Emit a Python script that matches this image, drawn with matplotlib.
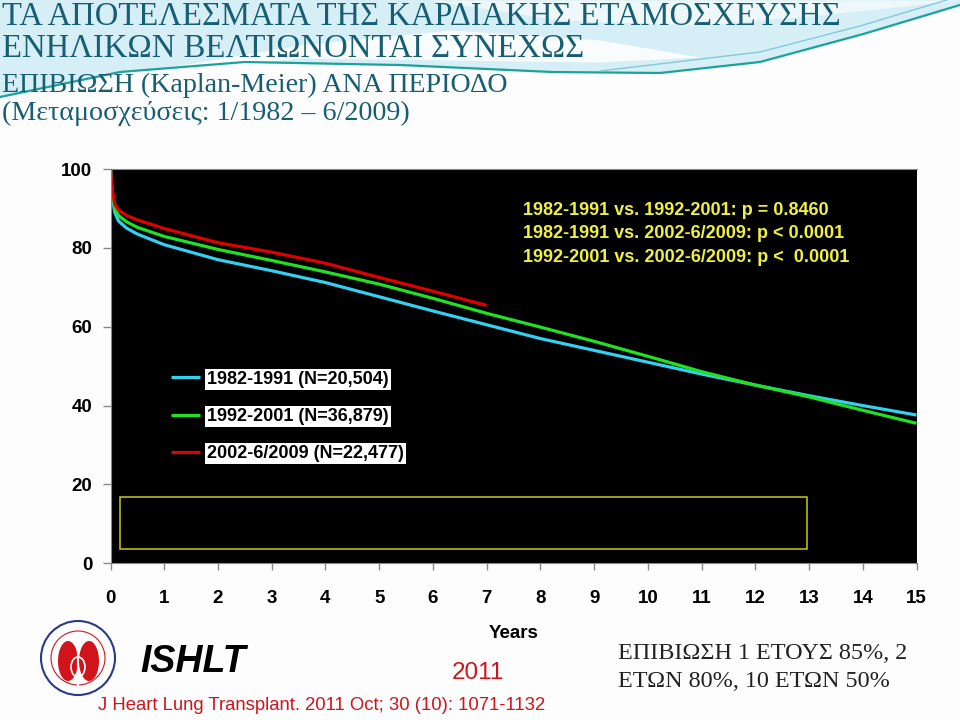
import matplotlib
matplotlib.use("Agg")
import matplotlib.pyplot as plt
import numpy as np
from matplotlib.patches import Rectangle, Circle, Ellipse

# ---------------- data ----------------
years_8291 = [0, 0.03, 0.08, 0.15, 0.3, 0.5, 1, 2, 3, 4, 5, 6, 7, 8, 9, 10, 11, 12, 13, 14, 15]
surv_8291 = [100, 93, 89, 86.8, 85.0, 83.5, 80.8, 77.0, 74.2, 71.2, 67.6, 64.0, 60.5, 57.0, 54.0, 51.0, 48.0, 45.2, 42.5, 40.0, 37.6]

years_9201 = [0, 0.03, 0.08, 0.15, 0.3, 0.5, 1, 2, 3, 4, 5, 6, 7, 8, 9, 10, 11, 12, 13, 14, 15]
surv_9201 = [100, 94, 90, 88.2, 86.6, 85.2, 82.9, 79.6, 76.8, 73.9, 70.8, 67.2, 63.4, 59.9, 56.3, 52.5, 48.6, 45.2, 42.2, 38.8, 35.5]

years_0209 = [0, 0.03, 0.08, 0.15, 0.3, 0.5, 1, 2, 3, 4, 5, 6, 7]
surv_0209 = [100, 95, 91, 89.6, 88.2, 87.1, 84.9, 81.3, 78.9, 76.1, 72.5, 69.0, 65.4]

series_labels = ["1982-1991 (N=20,504)", "1992-2001 (N=36,879)", "2002-6/2009 (N=22,477)"]
series_colors = ["#33d0f0", "#22e022", "#e00000"]

x_ticks = list(range(0, 16))
y_ticks = [0, 20, 40, 60, 80, 100]

pvalue_lines = ["1982-1991 vs. 1992-2001: p = 0.8460",
                "1982-1991 vs. 2002-6/2009: p < 0.0001",
                "1992-2001 vs. 2002-6/2009: p <  0.0001"]

title_lines = ["ΤΑ ΑΠΟΤΕΛΕΣΜΑΤΑ ΤΗΣ ΚΑΡΔΙΑΚΗΣ ΕΤΑΜΟΣΧΕΥΣΗΣ",
               "ΕΝΗΛΙΚΩΝ ΒΕΛΤΙΩΝΟΝΤΑΙ ΣΥΝΕΧΩΣ",
               "ΕΠΙΒΙΩΣΗ (Kaplan-Meier) ΑΝΑ ΠΕΡΙΟΔΟ",
               "(Μεταμοσχεύσεις: 1/1982 – 6/2009)"]
note_lines = ["ΕΠΙΒΙΩΣΗ 1 ΕΤΟΥΣ 85%, 2", "ΕΤΩΝ 80%, 10 ΕΤΩΝ 50%"]

# ---------------- figure ----------------
W, H = 960, 720
fig = plt.figure(figsize=(9.6, 7.2), dpi=100)
fig.patch.set_facecolor("#fdfdfd")

# background decoration (pixel coordinates)
bg = fig.add_axes([0, 0, 1, 1], zorder=0)
bg.set_xlim(0, W)
bg.set_ylim(H, 0)
bg.axis("off")
cx = np.array([0, 120, 245, 400, 551, 660, 760, 860, 960])
cy = np.array([97, 72, 62, 65, 72, 73, 62, 35, 5])
xs = np.linspace(0, W, 300)
ys = np.interp(xs, cx, cy)
bg.fill_between(xs, 0, ys, color="#d6eef6", lw=0)
# white streak
wx = np.array([120, 300, 450, 600, 700])
wtop = np.array([75, 45, 30, 40, 57])
wbot = np.array([75, 58, 60, 62, 57])
bg.fill_between(wx, wtop, wbot, color="white", alpha=0.85, lw=0)
wx2 = np.array([430, 560, 700, 820, 960])
bg.fill_between(wx2, np.array([0, 0, 0, 0, 0]), np.array([0, 20, 25, 15, 0]), color="#eef8fb", lw=0)
bg.plot(xs, ys, color="#1aa39a", lw=1.6)
sel = xs > 600
bg.plot(xs[sel], np.interp(xs[sel], [600, 760, 860, 960], [75, 56, 30, 0]) - 4, color="#86c8d8", lw=1)

# title
title_color = "#175e72"
fig.text(2 / W, 1 - 25 / H, title_lines[0], fontsize=23.5, family="Liberation Serif", color=title_color, va="baseline")
fig.text(2 / W, 1 - 57 / H, title_lines[1], fontsize=23.5, family="Liberation Serif", color=title_color, va="baseline")
fig.text(2 / W, 1 - 92 / H, title_lines[2], fontsize=20.2, family="Liberation Serif", color=title_color, va="baseline")
fig.text(2 / W, 1 - 120 / H, title_lines[3], fontsize=20.2, family="Liberation Serif", color=title_color, va="baseline")

# ---------------- chart ----------------
ax = fig.add_axes([110.5 / W, 1 - 563.3 / H, 806 / W, 394.3 / H], zorder=2)
ax.set_facecolor("black")
ax.set_xlim(0, 15)
ax.set_ylim(0, 100)

l1, = ax.plot(years_8291, surv_8291, color=series_colors[0], lw=2.3, label=series_labels[0], solid_capstyle="butt")
l2, = ax.plot(years_9201, surv_9201, color=series_colors[1], lw=2.3, label=series_labels[1], solid_capstyle="butt")
l3, = ax.plot(years_0209, surv_0209, color=series_colors[2], lw=2.3, label=series_labels[2], solid_capstyle="butt")

ax.set_xticks(x_ticks)
ax.set_yticks(y_ticks)
ax.set_xticklabels([str(v) for v in x_ticks])
ax.set_yticklabels([str(v) for v in y_ticks])
for lab in ax.get_xticklabels() + ax.get_yticklabels():
    lab.set_fontfamily("Liberation Sans")
    lab.set_fontweight("bold")
    lab.set_fontsize(13.5)
    lab.set_color("black")
ax.tick_params(axis="x", direction="out", length=5, width=1, color="#888888", pad=14)
ax.tick_params(axis="y", direction="out", length=6, width=1, color="#888888", pad=7)
for side in ["top", "bottom", "left"]:
    ax.spines[side].set_color("#888888")
ax.spines["right"].set_visible(False)

ax.set_xlabel("Years", fontsize=13.5, fontweight="bold", family="Liberation Sans", labelpad=13)

# yellow empty box
ax.add_patch(Rectangle((0.17, 3.55), 12.79, 13.2, fill=False, edgecolor="#c8c81e", lw=1.1, zorder=3))

# p-values
ax.text((523 - 110.5) / 806, (563.3 - 202) / 394.3, "\n".join(pvalue_lines), transform=ax.transAxes,
        color="#f0f040", fontsize=13, fontweight="bold", family="Liberation Sans", va="top", ha="left",
        linespacing=1.5)

# legend
leg = ax.legend(handles=[l1, l2, l3], loc="center left", bbox_to_anchor=((170.7 - 110.5) / 806, (563.3 - 416.5) / 394.3),
                frameon=False, borderpad=0, borderaxespad=0, handlelength=1.6, handletextpad=0.4,
                labelspacing=1.12, prop={"family": "Liberation Sans", "weight": "bold", "size": 13})
for t in leg.get_texts():
    t.set_color("black")
    t.set_bbox(dict(facecolor="white", edgecolor="none", pad=1.5))

# ---------------- footer ----------------
red = "#d0141a"
fig.text(478 / W, 1 - 679 / H, "2011", color=red, fontsize=17.5, family="Liberation Sans", ha="center", va="baseline")
fig.text(98 / W, 1 - 710 / H, "J Heart Lung Transplant. 2011 Oct; 30 (10): 1071-1132", color=red, fontsize=13.3,
         family="Liberation Sans", ha="left", va="baseline")
fig.text(140 / W, 1 - 672 / H, "ISHLT", color="black", fontsize=27, family="Liberation Sans", fontweight="bold",
         fontstyle="italic", ha="left", va="baseline")
fig.text(618 / W, 1 - 659 / H, note_lines[0], color="#222222", fontsize=17.4, family="Liberation Serif", va="baseline")
fig.text(618 / W, 1 - 687 / H, note_lines[1], color="#222222", fontsize=17.4, family="Liberation Serif", va="baseline")

# logo
bg.add_patch(Circle((78, 658), 37, facecolor="white", edgecolor="#2a3a88", lw=1.5, zorder=3))
bg.add_patch(Circle((78, 658), 27, facecolor="white", edgecolor="#d0141a", lw=0.8, zorder=3))
bg.add_patch(Ellipse((68, 661), 20, 40, facecolor="#d0141a", edgecolor="none", zorder=4))
bg.add_patch(Ellipse((89, 661), 20, 40, facecolor="#d0141a", edgecolor="none", zorder=4))
bg.plot([78, 78], [636, 688], color="white", lw=1.5, zorder=5)
bg.add_patch(Ellipse((78, 667), 14, 20, facecolor="none", edgecolor="white", lw=1.2, zorder=5))

fig.savefig("out.png", dpi=100, facecolor=fig.get_facecolor())
